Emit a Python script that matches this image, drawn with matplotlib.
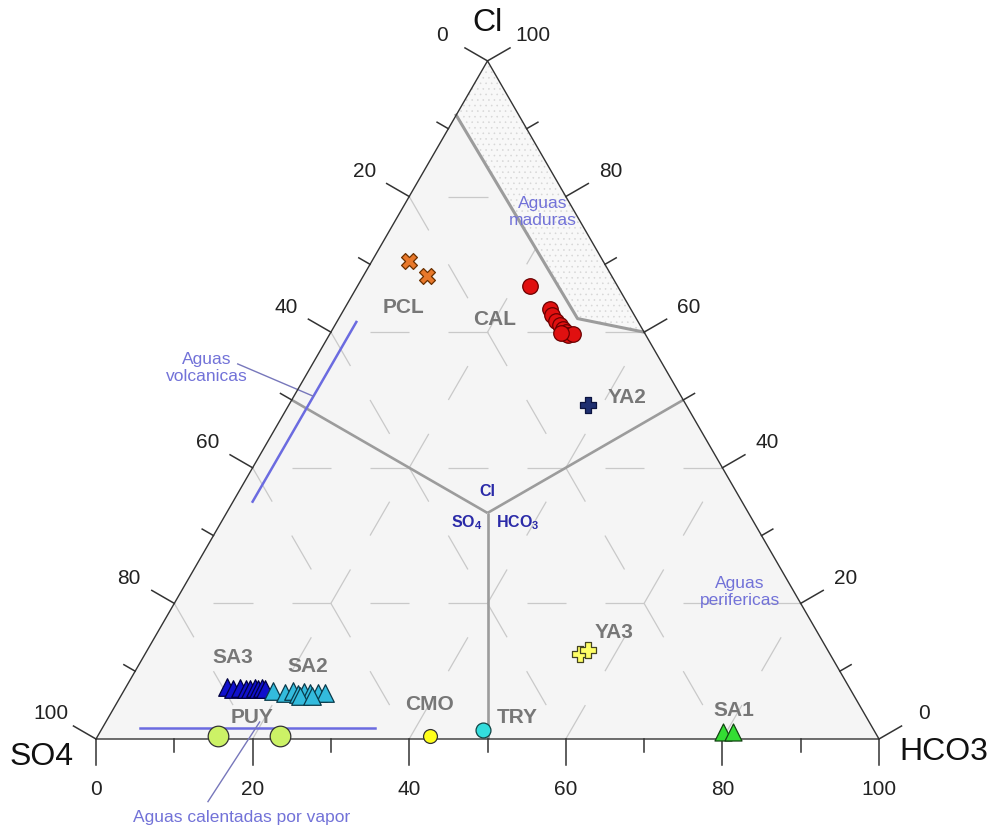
import numpy as np
import matplotlib
matplotlib.use('Agg')
import matplotlib.pyplot as plt
from matplotlib.patches import Polygon

plt.rcParams['font.family'] = ['Liberation Sans', 'DejaVu Sans']
plt.rcParams['mathtext.fontset'] = 'custom'
plt.rcParams['mathtext.rm'] = 'Liberation Sans'
plt.rcParams['mathtext.bf'] = 'Liberation Sans:bold'
plt.rcParams['hatch.linewidth'] = 0.4

# ---- sample compositions, percent (Cl, SO4, HCO3) ----
pcl_cl = [70.5, 68.3]
pcl_so4 = [24.8, 23.6]
pcl_hco3 = [4.7, 8.1]

cal_cl = [66.8, 63.4, 62.5, 61.7, 61.1, 60.5, 60.0, 59.6, 59.7, 59.9]
cal_so4 = [11.2, 10.3, 10.5, 10.4, 10.2, 10.1, 10.0, 9.9, 9.2, 10.6]
cal_hco3 = [22.0, 26.3, 27.0, 27.9, 28.7, 29.4, 30.0, 30.5, 31.1, 29.5]

ya2_cl = [49.3]
ya2_so4 = [12.5]
ya2_hco3 = [38.2]

ya3_cl = [12.5, 13.1]
ya3_so4 = [32.0, 30.6]
ya3_hco3 = [55.5, 56.3]

sa1_cl = [1.0, 1.0]
sa1_so4 = [19.4, 18.1]
sa1_hco3 = [79.6, 80.9]

cmo_cl = [0.5]
cmo_so4 = [57.1]
cmo_hco3 = [42.4]

try_cl = [1.3]
try_so4 = [49.9]
try_hco3 = [48.8]

puy_cl = [0.4, 0.4]
puy_so4 = [84.2, 76.3]
puy_hco3 = [15.4, 23.3]

sa3_cl = [7.7, 7.3, 7.5, 7.3, 7.3, 7.5, 7.3, 7.5, 7.3]
sa3_so4 = [79.4, 78.9, 77.8, 77.2, 76.7, 76.0, 75.7, 75.0, 74.8]
sa3_hco3 = [12.9, 13.8, 14.7, 15.5, 16.0, 16.5, 17.0, 17.5, 17.9]

sa2_cl = [7.1, 6.8, 7.1, 6.6, 6.9, 6.8, 6.8, 6.8, 6.3, 6.3]
sa2_so4 = [73.9, 72.5, 71.3, 70.9, 70.0, 69.3, 68.3, 67.3, 70.8, 69.3]
sa2_hco3 = [19.0, 20.7, 21.6, 22.5, 23.1, 23.9, 24.9, 25.9, 22.9, 24.4]

# field boundaries (Cl, SO4, HCO3)
mature_line = [(92, 8, 0), (62, 7.5, 30.5), (60, 0, 40)]
volcanic_line = [(61.5, 36, 2.5), (35, 62.5, 2.5)]
steam_line = [(1.6, 93.6, 4.8), (1.6, 63.6, 34.8)]

tick_vals = list(range(0, 101, 10))

S3 = np.sqrt(3) / 2


def tern(cl, so4, hco3):
    cl, so4, hco3 = np.asarray(cl, float), np.asarray(so4, float), np.asarray(hco3, float)
    tot = cl + so4 + hco3
    return (hco3 + cl / 2) / tot, cl * S3 / tot


fig = plt.figure(figsize=(9.94, 8.29), dpi=100)
ax = fig.add_axes([0, 0, 1, 1])
ax.set_xlim(-96 / 783, 898 / 783)
ax.set_ylim(-89 / 783, 740 / 783)
ax.axis('off')

# triangle background
tri = [tern(0, 100, 0), tern(0, 0, 100), tern(100, 0, 0)]
ax.add_patch(Polygon(tri, closed=True, facecolor='#f5f5f5', edgecolor='none', zorder=0))

# dashed triangular grid (dash 5%, gap 5%, starting with a gap)
def dashed(p0, p1):
    x0, y0 = tern(*p0)
    x1, y1 = tern(*p1)
    L = np.hypot(x1 - x0, y1 - y0)
    d = 0.05
    while d < L - 1e-6:
        a, b = d / L, min(d + 0.05, L) / L
        ax.plot([x0 + (x1 - x0) * a, x0 + (x1 - x0) * b],
                [y0 + (y1 - y0) * a, y0 + (y1 - y0) * b],
                color='#c9c9c9', lw=0.9, zorder=1, solid_capstyle='butt')
        d += 0.1

for v in [20, 40, 60, 80]:
    dashed((v, 100 - v, 0), (v, 0, 100 - v))          # constant Cl, from left
    dashed((100 - v, 0, v), (0, 100 - v, v))          # constant HCO3, from right edge
    dashed((0, v, 100 - v), (100 - v, v, 0))          # constant SO4, from bottom

# mature waters stippled region
mat_poly = [tern(92, 8, 0), tern(100, 0, 0), tern(60, 0, 40), tern(62, 7.5, 30.5)]
ax.add_patch(Polygon(mat_poly, closed=True, facecolor='#f8f8f8', edgecolor='none', zorder=2))
ax.add_patch(Polygon(mat_poly, closed=True, facecolor='none', edgecolor='#d6d6d6',
                     hatch='...', lw=0, zorder=2))

# field boundary lines
gc = '#9c9c9c'
centre = (100 / 3, 100 / 3, 100 / 3)
for end in [(50, 50, 0), (50, 0, 50), (0, 50, 50)]:
    xs, ys = tern(*zip(centre, end))
    ax.plot(xs, ys, color=gc, lw=1.9, zorder=3, solid_capstyle='butt')
xs, ys = tern(*zip(*mature_line))
ax.plot(xs, ys, color=gc, lw=2.2, zorder=3)

blue = '#6b6be0'
for ln in [volcanic_line, steam_line]:
    xs, ys = tern(*zip(*ln))
    ax.plot(xs, ys, color=blue, lw=1.8, zorder=3)

# triangle edges
ax.plot(*zip(*(tri + [tri[0]])), color='#333333', lw=1.0, zorder=4)

# ticks and tick labels
tc = '#333333'
major, minor, lab = 26 / 783, 13 / 783, 52 / 783
edges = [
    (lambda v: (100 - v, v, 0), (-S3, 0.5)),    # SO4 axis (left)
    (lambda v: (v, 0, 100 - v), (S3, 0.5)),     # Cl axis (right)
    (lambda v: (0, 100 - v, v), (0, -1)),       # HCO3 axis (bottom)
]
for fn, (nx, ny) in edges:
    for v in tick_vals:
        x, y = tern(*fn(v))
        ln = major if v % 20 == 0 else minor
        ax.plot([x, x + nx * ln], [y, y + ny * ln], color=tc, lw=1.1, zorder=4)
        if v % 20 == 0:
            d = lab if ny != -1 else 50 / 783
            ax.text(x + nx * d, y + ny * d, str(v), fontsize=15, color='#222222',
                    ha='center', va='center')

ax.text(0.5, 717 / 783, 'Cl', fontsize=23, ha='center', va='center', color='#111111')
ax.text(-54 / 783, -17 / 783, 'SO4', fontsize=23, ha='center', va='center', color='#111111')
ax.text(848 / 783, -12 / 783, 'HCO3', fontsize=23, ha='center', va='center', color='#111111')

# samples
groups = [
    (pcl_cl, pcl_so4, pcl_hco3, 'X', 130, '#e8782a', '#6b3000'),
    (cal_cl, cal_so4, cal_hco3, 'o', 125, '#e01010', '#6a0000'),
    (ya2_cl, ya2_so4, ya2_hco3, 'P', 130, '#1f2f70', '#0c1440'),
    (ya3_cl, ya3_so4, ya3_hco3, 'P', 130, '#ffff66', '#444422'),
    (sa1_cl, sa1_so4, sa1_hco3, '^', 150, '#33dd33', '#124412'),
    (cmo_cl, cmo_so4, cmo_hco3, 'o', 100, '#ffff1a', '#333333'),
    (try_cl, try_so4, try_hco3, 'o', 115, '#33dddd', '#114444'),
    (puy_cl, puy_so4, puy_hco3, 'o', 220, '#ccf266', '#333333'),
    (sa3_cl, sa3_so4, sa3_hco3, '^', 160, '#1010cc', '#000040'),
    (sa2_cl, sa2_so4, sa2_hco3, '^', 160, '#33bbdd', '#0a3a4a'),
]
for cl, so4, hco3, m, s, fc, ec in groups:
    xs, ys = tern(cl, so4, hco3)
    ax.scatter(xs, ys, marker=m, s=s, facecolor=fc, edgecolor=ec, linewidths=0.9, zorder=6)

# group labels
labels = {'PCL': (0.393, 0.553), 'CAL': (0.509, 0.537), 'YA2': (0.678, 0.438),
          'YA3': (0.662, 0.137), 'SA1': (0.814, 0.038), 'CMO': (0.426, 0.045),
          'TRY': (0.538, 0.029), 'PUY': (0.199, 0.029), 'SA3': (0.175, 0.105),
          'SA2': (0.270, 0.094)}
for t, (x, y) in labels.items():
    ax.text(x, y, t, fontsize=15, fontweight='bold', color='#777777',
            ha='center', va='center', zorder=7)

# field names
ac = '#7272d8'
ax.text(0.571, 0.674, 'Aguas\nmaduras', fontsize=12.5, color=ac, ha='center', va='center',
        linespacing=1.15, zorder=7)
ax.text(0.142, 0.475, 'Aguas\nvolcanicas', fontsize=12.5, color=ac, ha='center', va='center',
        linespacing=1.15, zorder=7)
ax.plot([0.181, 0.277], [0.479, 0.438], color='#7777bb', lw=1.0, zorder=3)
ax.text(0.822, 0.189, 'Aguas\nperifericas', fontsize=12.5, color=ac, ha='center', va='center',
        linespacing=1.15, zorder=7)
ax.text(0.186, -0.0996, 'Aguas calentadas por vapor', fontsize=12.5, color=ac,
        ha='center', va='center', zorder=7)
ax.plot([0.143, 0.209], [-0.080, 0.0217], color='#7777bb', lw=1.0, zorder=5)

# centre labels
cc = '#2a2aa8'
ax.text(0.4994, 0.317, 'Cl', fontsize=11.5, fontweight='bold', color=cc, ha='center', va='center')
ax.text(0.474, 0.277, r'SO$_\mathbf{4}$', fontsize=11.5, fontweight='bold', color=cc,
        ha='center', va='center')
ax.text(0.538, 0.277, r'HCO$_\mathbf{3}$', fontsize=11.5, fontweight='bold', color=cc,
        ha='center', va='center')

fig.savefig('out.png', dpi=100, facecolor='white')
